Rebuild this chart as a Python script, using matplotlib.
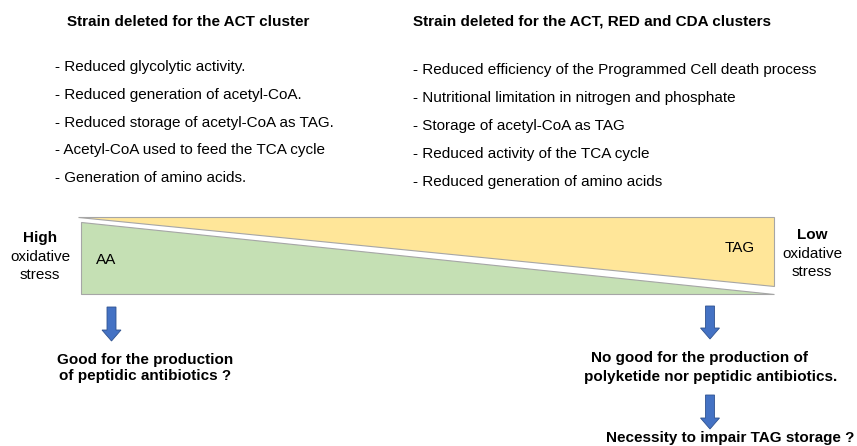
import matplotlib
matplotlib.use("Agg")
import matplotlib.pyplot as plt
from matplotlib.patches import Polygon, FancyArrow

plt.rcParams['font.family'] = ['Liberation Sans', 'DejaVu Sans']

W, H = 857, 446

# ---- text content ----
left_title = "Strain deleted for the ACT cluster"
left_items = [
    "- Reduced glycolytic activity.",
    "- Reduced generation of acetyl-CoA.",
    "- Reduced storage of acetyl-CoA as TAG.",
    "- Acetyl-CoA used to feed the TCA cycle",
    "- Generation of amino acids.",
]
right_title = "Strain deleted for the ACT, RED and CDA clusters"
right_items = [
    "- Reduced efficiency of the Programmed Cell death process",
    "- Nutritional limitation in nitrogen and phosphate",
    "- Storage of acetyl-CoA as TAG",
    "- Reduced activity of the TCA cycle",
    "- Reduced generation of amino acids",
]
high_label = ["High", "oxidative", "stress"]
low_label = ["Low", "oxidative", "stress"]
left_outcome = "Good for the production\nof peptidic antibiotics ?"
right_outcome_lines = ["No good for the production of",
                       "polyketide nor peptidic antibiotics."]
final_outcome = "Necessity to impair TAG storage ?"

fig = plt.figure(figsize=(W / 100, H / 100), dpi=100)
ax = fig.add_axes([0, 0, 1, 1])
ax.set_xlim(0, W)
ax.set_ylim(H, 0)
ax.axis("off")

FS = 11

# titles
ax.text(67, 22, left_title, fontsize=FS, fontweight="bold", va="center", ha="left")
ax.text(413, 22, right_title, fontsize=FS, fontweight="bold", va="center", ha="left")

for i, s in enumerate(left_items):
    ax.text(55, 67 + i * 27.8, s, fontsize=FS, va="center", ha="left")
for i, s in enumerate(right_items):
    ax.text(413, 70 + i * 28, s, fontsize=FS, va="center", ha="left")

# triangles
yellow = Polygon([(78, 217), (774, 217), (774, 286)], closed=True,
                 facecolor="#FFE699", edgecolor="#A6A6A6", linewidth=0.8)
green = Polygon([(81, 222), (81, 294), (774, 294)], closed=True,
                facecolor="#C5E0B4", edgecolor="#A6A6A6", linewidth=0.8)
ax.add_patch(yellow)
ax.add_patch(green)

ax.text(96, 260, "AA", fontsize=FS, va="center", ha="left")
ax.text(755, 248, "TAG", fontsize=FS, va="center", ha="right")

# side labels
for i, (s, y) in enumerate(zip(high_label, [238, 257, 275])):
    ax.text(40, y, s, fontsize=FS, fontweight="bold" if i == 0 else "normal",
            va="center", ha="center")
for i, (s, y) in enumerate(zip(low_label, [235, 254, 272])):
    ax.text(812, y, s, fontsize=FS, fontweight="bold" if i == 0 else "normal",
            va="center", ha="center")

# arrows
def down_arrow(x, y0, y1):
    ax.add_patch(FancyArrow(x, y0, 0, y1 - y0, width=9, head_width=19,
                            head_length=11, length_includes_head=True,
                            facecolor="#4472C4", edgecolor="#2F528F", linewidth=0.6))

down_arrow(111.5, 307, 341)
down_arrow(710, 306, 339)
down_arrow(710, 395, 429)

ax.text(145, 368, left_outcome, fontsize=FS, fontweight="bold",
        va="center", ha="center", linespacing=1.25)
ax.text(700, 358, right_outcome_lines[0], fontsize=FS, fontweight="bold",
        va="center", ha="center")
ax.text(711, 376.5, right_outcome_lines[1], fontsize=FS, fontweight="bold",
        va="center", ha="center")
ax.text(606, 438, final_outcome, fontsize=FS, fontweight="bold",
        va="center", ha="left")

fig.savefig("out.png", dpi=100)
